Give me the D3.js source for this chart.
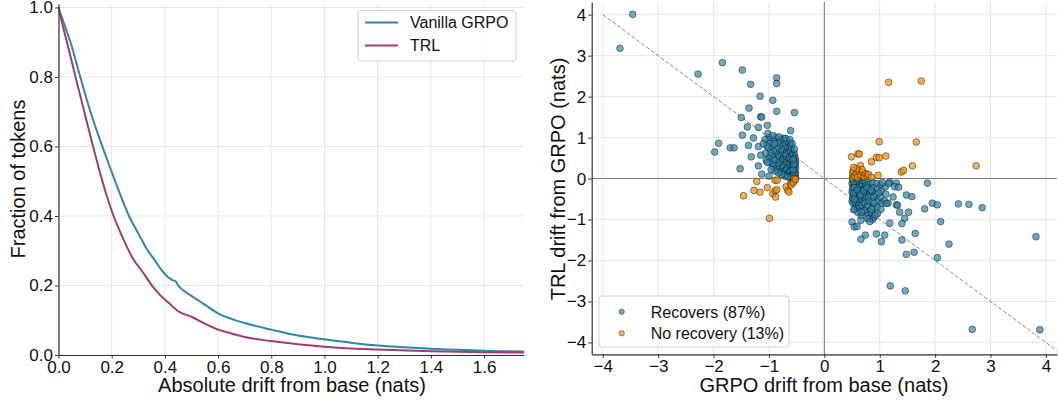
<!DOCTYPE html>
<html><head><meta charset="utf-8">
<script src="https://cdn.jsdelivr.net/npm/d3@7"></script>
<style>
body{margin:0;background:#fff;}
svg{display:block;font-family:"Liberation Sans",Arial,Helvetica,sans-serif;}
</style></head>
<body><svg id="c" width="1058" height="400"></svg>
<script>
// ---- Left panel data: fraction of tokens with |drift| > x ----
const grpoDrift = [0,0.02,0.045,0.082,0.12,0.165,0.213,0.265,0.30,0.336,0.36,0.382,0.41,0.43,0.44,0.45,0.50,0.55,0.60,0.65,0.70,0.80,0.90,1.00,1.10,1.20,1.30,1.40,1.50,1.60,1.75];
const grpoFrac  = [1.0,0.955,0.90,0.80,0.70,0.60,0.50,0.40,0.35,0.30,0.275,0.25,0.225,0.215,0.212,0.200,0.17,0.145,0.12,0.104,0.092,0.073,0.056,0.045,0.035,0.027,0.022,0.018,0.015,0.012,0.010];
const trlDrift  = [0,0.015,0.032,0.064,0.097,0.13,0.165,0.207,0.24,0.278,0.32,0.356,0.385,0.414,0.45,0.50,0.55,0.60,0.65,0.70,0.80,0.90,1.00,1.10,1.20,1.40,1.60,1.75];
const trlFrac   = [1.0,0.95,0.90,0.80,0.70,0.60,0.50,0.40,0.34,0.28,0.235,0.195,0.17,0.15,0.126,0.11,0.09,0.073,0.062,0.052,0.04,0.031,0.024,0.019,0.016,0.011,0.008,0.007];
const leftXTicks = [0,0.2,0.4,0.6,0.8,1.0,1.2,1.4,1.6];
const leftYTicks = [0,0.2,0.4,0.6,0.8,1.0];
const leftSeries = ["Vanilla GRPO","TRL"];

// ---- Right panel data: [GRPO drift from base, TRL drift from GRPO] ----
const recovers = [
 // left cluster
 [-0.52,0.02],[-0.53,0.08],[-0.52,0.14],[-0.54,0.2],[-0.52,0.26],[-0.53,0.32],[-0.52,0.38],[-0.52,0.44],[-0.53,0.5],[-0.54,0.56],[-0.55,0.63],
 [-0.57,0.05],[-0.58,0.12],[-0.59,0.18],[-0.57,0.25],[-0.58,0.31],[-0.6,0.37],[-0.57,0.43],[-0.59,0.5],[-0.58,0.57],[-0.6,0.64],[-0.59,0.72],[-0.61,0.8],
 [-0.63,0.1],[-0.64,0.16],[-0.62,0.22],[-0.65,0.28],[-0.63,0.35],[-0.64,0.41],[-0.62,0.47],[-0.66,0.53],[-0.63,0.6],[-0.65,0.68],[-0.64,0.76],[-0.62,0.88],
 [-0.68,0.08],[-0.69,0.15],[-0.67,0.21],[-0.7,0.27],[-0.68,0.33],[-0.69,0.39],[-0.71,0.46],[-0.67,0.52],[-0.7,0.58],[-0.68,0.66],[-0.71,0.74],[-0.69,0.92],
 [-0.73,0.12],[-0.74,0.2],[-0.72,0.26],[-0.75,0.33],[-0.73,0.4],[-0.76,0.47],[-0.74,0.55],[-0.72,0.62],[-0.75,0.7],[-0.73,0.78],[-0.76,0.86],[-0.74,0.98],
 [-0.79,0.18],[-0.8,0.25],[-0.78,0.32],[-0.81,0.4],[-0.79,0.48],[-0.82,0.56],[-0.8,0.64],[-0.78,0.72],[-0.81,0.82],[-0.79,0.95],
 [-0.85,0.22],[-0.86,0.3],[-0.84,0.38],[-0.87,0.46],[-0.85,0.55],[-0.88,0.65],[-0.86,0.75],[-0.84,0.88],[-0.87,1.0],
 [-0.92,0.28],[-0.93,0.37],[-0.91,0.47],[-0.94,0.58],[-0.92,0.68],[-0.95,0.8],[-0.93,0.95],
 [-0.99,0.4],[-1.0,0.52],[-0.98,0.63],[-1.01,0.75],[-0.99,0.88],[-1.0,1.0],
 [-1.05,0.45],[-1.06,0.62],[-1.04,0.8],[-1.07,0.95],
 [-0.55,0.1],[-0.56,0.22],[-0.55,0.35],[-0.56,0.47],[-0.61,0.02],[-0.66,0.04],[-0.71,0.06],[-0.77,0.1],[-0.83,0.14],[-0.89,0.18],
 [-0.96,0.22],[-0.9,0.85],[-0.82,1.02],[-0.7,0.98],[-0.62,0.95],[-0.58,0.85],[-0.54,0.72],
 // left outliers
 [-3.46,4.01],[-3.69,3.18],[-1.84,2.83],[-2.28,2.55],[-1.48,2.65],[-0.86,2.46],[-0.86,2.32],[-1.33,2.30],[-1.16,2.01],[-0.93,1.91],
 [-1.36,1.72],[-0.86,1.64],[-0.54,1.61],[-1.50,1.49],[-1.15,1.51],[-1.13,1.50],[-1.39,1.26],[-1.19,1.25],[-1.03,1.30],[-0.61,1.17],
 [-1.48,1.06],[-1.28,0.99],[-1.91,0.86],[-1.70,0.75],[-1.63,0.75],[-1.98,0.65],[-1.37,0.81],[-1.32,0.53],[-1.19,0.78],[-1.15,0.57],
 [-1.52,0.24],[-1.19,0.31],[-1.13,0.11],[-1.00,0.06],[-1.03,0.39],[-1.10,0.85],[-1.02,1.1],[-0.93,1.05],
 // right cluster
 [0.51,-0.05],[0.5,-0.12],[0.52,-0.19],[0.51,-0.26],[0.5,-0.33],[0.52,-0.4],[0.51,-0.47],[0.5,-0.55],[0.52,-0.6],
 [0.56,-0.03],[0.57,-0.1],[0.55,-0.17],[0.58,-0.24],[0.56,-0.31],[0.57,-0.38],[0.55,-0.45],[0.58,-0.52],[0.56,-0.6],[0.57,-0.7],[0.55,-0.75],
 [0.62,-0.08],[0.63,-0.15],[0.61,-0.22],[0.64,-0.29],[0.62,-0.36],[0.63,-0.43],[0.61,-0.5],[0.64,-0.58],[0.62,-0.66],[0.63,-0.72],
 [0.68,-0.05],[0.69,-0.12],[0.67,-0.2],[0.7,-0.27],[0.68,-0.35],[0.69,-0.42],[0.67,-0.5],[0.7,-0.57],[0.68,-0.65],[0.69,-0.82],
 [0.74,-0.1],[0.75,-0.18],[0.73,-0.26],[0.76,-0.34],[0.74,-0.42],[0.75,-0.5],[0.73,-0.6],[0.76,-0.7],
 [0.8,-0.05],[0.81,-0.15],[0.79,-0.25],[0.82,-0.35],[0.8,-0.45],[0.81,-0.55],[0.79,-0.68],[0.82,-0.8],[0.8,-0.9],[0.81,-0.97],
 [0.87,-0.1],[0.88,-0.22],[0.86,-0.33],[0.89,-0.45],[0.87,-0.57],[0.88,-0.7],[0.86,-0.85],[0.89,-0.95],[0.87,-1.0],
 [0.95,-0.12],[0.96,-0.25],[0.94,-0.4],[0.97,-0.55],[0.95,-0.7],[0.96,-0.85],
 [1.02,-0.15],[1.03,-0.3],[1.01,-0.45],[1.04,-0.6],[1.02,-0.75],
 [1.1,-0.2],[1.11,-0.38],[1.09,-0.55],
 [0.53,-0.08],[0.54,-0.22],[0.53,-0.36],[0.54,-0.5],[0.59,-0.02],[0.6,-0.28],[0.65,-0.4],[0.71,-0.3],[0.77,-0.22],[0.84,-0.28],
 [0.9,-0.6],[0.98,-0.35],[1.05,-0.1],[0.72,-0.78],[0.85,-0.75],[0.66,-0.9],[0.6,-0.82],[0.78,-0.98],[0.92,-0.9],[1.15,-0.6],
 // right outliers
 [1.18,-0.08],[1.16,-0.12],[1.30,-0.11],[1.27,-0.2],[1.34,-0.21],[1.48,-0.40],[1.58,-0.44],[1.86,-0.11],[1.24,-0.45],[1.30,-0.64],
 [1.12,-0.61],[1.32,-0.65],[1.36,-0.82],[1.45,-0.97],[1.40,-1.10],[1.18,-1.09],[0.94,-1.35],[1.09,-1.38],[1.03,-1.54],[0.74,-1.38],
 [0.66,-1.48],[1.40,-1.50],[1.64,-1.34],[1.48,-1.85],[1.62,-1.80],[2.04,-1.93],[2.25,-1.60],[2.10,-1.05],[1.81,-0.74],[1.95,-0.60],
 [2.04,-0.64],[2.42,-0.62],[2.61,-0.63],[2.85,-0.71],[3.82,-1.42],[1.19,-2.62],[1.46,-2.74],[2.67,-3.68],[3.89,-3.69],[0.50,-1.06],
 [0.54,-1.18],[0.59,-1.17],[0.67,-0.82],[0.53,-0.76],[0.66,-1.02],[0.82,-1.05],[1.52,-0.82]
];
const noRecovery = [
 // left cluster
 [-1.46,-0.42],[-1.22,-0.07],[-1.27,-0.29],[-1.16,-0.33],[-1.03,-0.22],[-0.99,-0.97],[-0.93,-0.37],[-0.89,-0.30],[-0.88,-0.45],[-0.86,-0.27],
 [-0.89,-0.04],[-0.85,-0.04],[-0.69,-0.20],[-0.66,-0.29],[-0.64,-0.33],[-0.61,-0.12],[-0.57,-0.08],[-0.54,-0.04],[-0.55,0.0],[-0.60,-0.16],
 [-0.56,-0.1],[-0.52,-0.02],
 // right side
 [0.99,0.90],[1.66,0.89],[0.49,0.53],[0.61,0.60],[0.63,0.60],[0.85,0.41],[0.94,0.52],[0.99,0.51],[1.11,0.55],[0.65,0.32],
 [1.59,0.31],[1.39,0.16],[1.43,0.20],[2.74,0.31],[0.97,0.08],[1.16,2.35],[1.75,2.38],
 [0.51,0.02],[0.52,0.08],[0.51,0.14],[0.52,0.2],[0.55,0.05],[0.58,0.12],[0.6,0.03],[0.63,0.18],[0.66,0.08],[0.7,0.15],
 [0.72,0.04],[0.75,0.12],[0.78,0.06],[0.8,0.1],[0.85,0.03],[0.68,0.22],[0.58,0.24],[0.53,0.27]
];
const rightTicks = [-4,-3,-2,-1,0,1,2,3,4];
const rightSeries = ["Recovers (87%)","No recovery (13%)"];

// ---- styling ----
const BLUE = "#2E86AB", MAG = "#A23B72", ORANGE = "#F18F01";
const FONT = "Liberation Sans, Arial, sans-serif";
const svg = d3.select("#c");
const defs = svg.append("defs");

function styleAxis(g){
  g.select(".domain").attr("stroke","#333").attr("stroke-width",1.2);
  g.selectAll(".tick line").attr("stroke","#333").attr("stroke-width",1);
  g.selectAll(".tick text").attr("font-size",17).attr("font-family",FONT).attr("fill","#111");
}

// ================= LEFT PANEL =================
const xL = d3.scaleLinear().domain([0,1.75]).range([58.5,524]);
const yL = d3.scaleLinear().domain([0,1.01]).range([355,4]);
defs.append("clipPath").attr("id","clipL").append("rect")
  .attr("x",xL.range()[0]).attr("y",yL.range()[1]).attr("width",xL.range()[1]-xL.range()[0]).attr("height",yL.range()[0]-yL.range()[1]);

const gL = svg.append("g");
gL.append("g").selectAll("line").data(leftXTicks).join("line")
  .attr("x1",d=>xL(d)).attr("x2",d=>xL(d)).attr("y1",yL.range()[0]).attr("y2",yL.range()[1])
  .attr("stroke","#e6e6e6").attr("stroke-width",1);
gL.append("g").selectAll("line").data(leftYTicks).join("line")
  .attr("y1",d=>yL(d)).attr("y2",d=>yL(d)).attr("x1",xL.range()[0]).attr("x2",xL.range()[1])
  .attr("stroke","#e6e6e6").attr("stroke-width",1);

const lineG = d3.line().x(d=>xL(d[0])).y(d=>yL(d[1])).curve(d3.curveMonotoneX);
const curves = [
  {name:leftSeries[0], color:BLUE, pts:grpoDrift.map((x,i)=>[x,grpoFrac[i]])},
  {name:leftSeries[1], color:MAG, pts:trlDrift.map((x,i)=>[x,trlFrac[i]])}
];
gL.append("g").attr("clip-path","url(#clipL)").selectAll("path").data(curves).join("path")
  .attr("d",d=>lineG(d.pts)).attr("fill","none").attr("stroke",d=>d.color).attr("stroke-width",2);

gL.append("g").attr("transform",`translate(0,${yL.range()[0]})`)
  .call(d3.axisBottom(xL).tickValues(leftXTicks).tickFormat(d3.format(".1f")).tickSize(3.5).tickPadding(2).tickSizeOuter(0))
  .call(styleAxis);
gL.append("g").attr("transform",`translate(${xL.range()[0]},0)`)
  .call(d3.axisLeft(yL).tickValues(leftYTicks).tickFormat(d3.format(".1f")).tickSize(3.5).tickPadding(2).tickSizeOuter(0))
  .call(styleAxis);

gL.append("text").attr("x",292).attr("y",392).attr("text-anchor","middle")
  .attr("font-size",20).attr("font-family",FONT).attr("fill","#111").text("Absolute drift from base (nats)");
gL.append("text").attr("transform","translate(25,179) rotate(-90)").attr("text-anchor","middle")
  .attr("font-size",20).attr("font-family",FONT).attr("fill","#111").text("Fraction of tokens");

// legend left
const lgL = gL.append("g");
lgL.append("rect").attr("x",358).attr("y",10.5).attr("width",158).attr("height",50.5).attr("rx",3)
  .attr("fill","#fff").attr("fill-opacity",0.85).attr("stroke","#d0d0d0").attr("stroke-width",1);
curves.forEach((c,i)=>{
  const yy = 22.5 + i*23;
  lgL.append("line").attr("x1",365).attr("x2",398).attr("y1",yy).attr("y2",yy).attr("stroke",c.color).attr("stroke-width",2);
  lgL.append("text").attr("x",410).attr("y",yy+5.8).attr("font-size",16).attr("font-family",FONT).attr("fill","#111").text(c.name);
});

// ================= RIGHT PANEL =================
const xR = d3.scaleLinear().domain([-4.2,4.2]).range([591.7,1057]);
const yR = d3.scaleLinear().domain([-4.29,4.31]).range([354.3,2]);
defs.append("clipPath").attr("id","clipR").append("rect")
  .attr("x",xR.range()[0]).attr("y",yR.range()[1]).attr("width",xR.range()[1]-xR.range()[0]).attr("height",yR.range()[0]-yR.range()[1]);

const gR = svg.append("g");
gR.append("g").selectAll("line").data(rightTicks).join("line")
  .attr("x1",d=>xR(d)).attr("x2",d=>xR(d)).attr("y1",yR.range()[0]).attr("y2",yR.range()[1])
  .attr("stroke","#e6e6e6").attr("stroke-width",1);
gR.append("g").selectAll("line").data(rightTicks).join("line")
  .attr("y1",d=>yR(d)).attr("y2",d=>yR(d)).attr("x1",xR.range()[0]).attr("x2",xR.range()[1])
  .attr("stroke","#e6e6e6").attr("stroke-width",1);
// zero lines
gR.append("line").attr("x1",xR(0)).attr("x2",xR(0)).attr("y1",yR.range()[0]).attr("y2",yR.range()[1])
  .attr("stroke","#808080").attr("stroke-width",1.1);
gR.append("line").attr("y1",yR(0)).attr("y2",yR(0)).attr("x1",xR.range()[0]).attr("x2",xR.range()[1])
  .attr("stroke","#808080").attr("stroke-width",1.1);
// y = -x reference
gR.append("g").attr("clip-path","url(#clipR)").append("line")
  .attr("x1",xR(-4)).attr("y1",yR(4)).attr("x2",xR(4.5)).attr("y2",yR(-4.5))
  .attr("stroke","#8a8a8a").attr("stroke-width",1).attr("stroke-dasharray","4,2");

const ptsG = gR.append("g").attr("clip-path","url(#clipR)");
[[recovers,BLUE],[noRecovery,ORANGE]].forEach(([data,col])=>{
  ptsG.append("g").selectAll("circle").data(data).join("circle")
    .attr("cx",d=>xR(d[0])).attr("cy",d=>yR(d[1])).attr("r",3.4)
    .attr("fill",col).attr("fill-opacity",0.7)
    .attr("stroke","#000").attr("stroke-opacity",0.7).attr("stroke-width",0.6);
});

gR.append("g").attr("transform",`translate(0,${yR.range()[0]})`)
  .call(d3.axisBottom(xR).tickValues(rightTicks).tickFormat(d3.format("d")).tickSize(3.5).tickPadding(2).tickSizeOuter(0))
  .call(styleAxis);
gR.append("g").attr("transform",`translate(${xR.range()[0]},0)`)
  .call(d3.axisLeft(yR).tickValues(rightTicks).tickFormat(d3.format("d")).tickSize(3.5).tickPadding(2).tickSizeOuter(0))
  .call(styleAxis);

gR.append("text").attr("x",824).attr("y",392).attr("text-anchor","middle")
  .attr("font-size",20).attr("font-family",FONT).attr("fill","#111").text("GRPO drift from base (nats)");
gR.append("text").attr("transform","translate(565,179) rotate(-90)").attr("text-anchor","middle")
  .attr("font-size",20).attr("font-family",FONT).attr("fill","#111").text("TRL drift from GRPO (nats)");

const lgR = gR.append("g");
lgR.append("rect").attr("x",599).attr("y",296).attr("width",190).attr("height",51).attr("rx",3)
  .attr("fill","#fff").attr("fill-opacity",0.85).attr("stroke","#d0d0d0").attr("stroke-width",1);
[BLUE,ORANGE].forEach((col,i)=>{
  const yy = 311.7 + i*21.6;
  lgR.append("circle").attr("cx",621.7).attr("cy",yy).attr("r",2.7)
    .attr("fill",col).attr("fill-opacity",0.7).attr("stroke","#000").attr("stroke-opacity",0.7).attr("stroke-width",0.5);
  lgR.append("text").attr("x",650.7).attr("y",yy+5.8).attr("font-size",16).attr("font-family",FONT).attr("fill","#111").text(rightSeries[i]);
});
</script></body></html>
